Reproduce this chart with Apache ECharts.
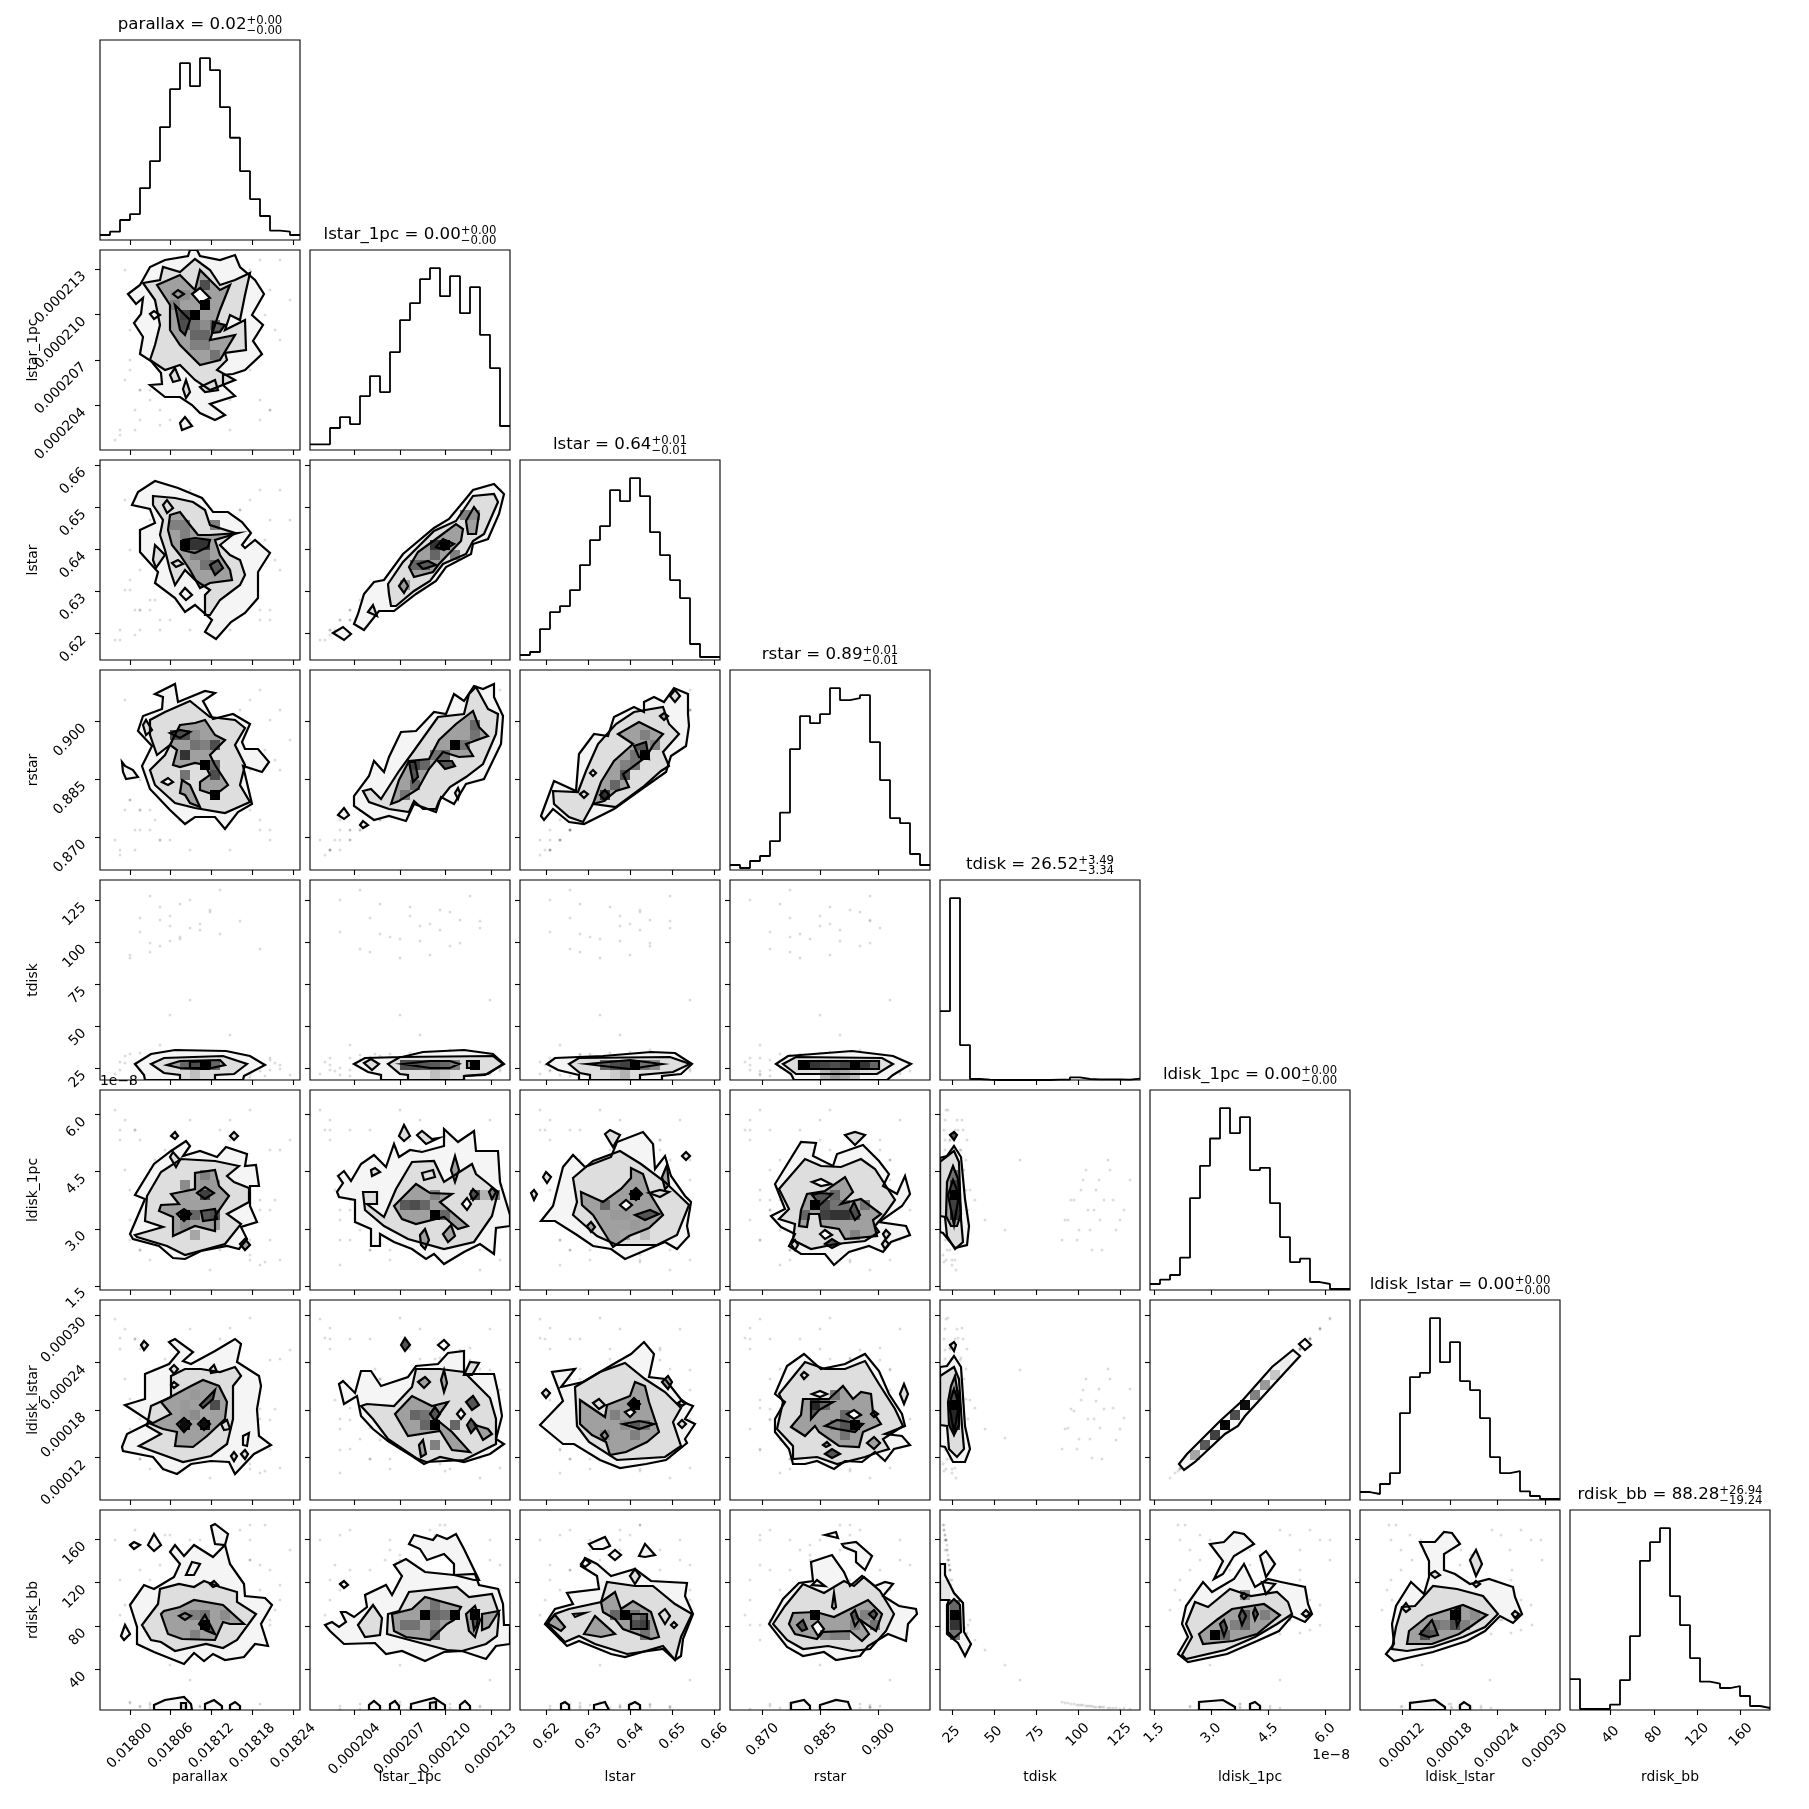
<!DOCTYPE html>
<html><head><meta charset="utf-8"><style>html,body{margin:0;padding:0;background:#fff}#c{width:1809px;height:1809px}</style>
<script src="https://cdn.jsdelivr.net/npm/echarts@6/dist/echarts.min.js"></script></head><body><div id="c"></div>
<script>
const names=['parallax','lstar_1pc','lstar','rstar','tdisk','ldisk_1pc','ldisk_lstar','rdisk_bb'];
const medians=['0.02','0.00','0.64','0.89','26.52','0.00','0.00','88.28'];
const plus=['+0.00','+0.00','+0.01','+0.01','+3.49','+0.00','+0.00','+26.94'];
const minus=['\u22120.00','\u22120.00','\u22120.01','\u22120.01','\u22123.34','\u22120.00','\u22120.00','\u221219.24'];
const mins=[0.0179562,0.00020107,0.61364,0.86154,18,1.39e-8,0.0000667,2.5];
const maxs=[0.01825,0.00021426,0.66126,0.91327,137,6.65e-8,0.000319,187];
const tickLabels=[['0.01800','0.01806','0.01812','0.01818','0.01824'],['0.000204','0.000207','0.000210','0.000213'],['0.62','0.63','0.64','0.65','0.66'],['0.870','0.885','0.900'],['25','50','75','100','125'],['1.5','3.0','4.5','6.0'],['0.00012','0.00018','0.00024','0.00030'],['40','80','120','160']];
const tickVals=[[0.018,0.01806,0.01812,0.01818,0.01824],[0.000204,0.000207,0.00021,0.000213],[0.62,0.63,0.64,0.65,0.66],[0.87,0.885,0.9],[25,50,75,100,125],[1.5e-8,3e-8,4.5e-8,6e-8],[0.00012,0.00018,0.00024,0.0003],[40,80,120,160]];
// histograms (20 bins)
const h1=[15,25,60,78,156,237,339,453,531,462,546,510,399,307,207,123,72,28,25,15];
const h2=[17,17,66,99,78,162,222,174,294,390,441,513,546,462,522,411,489,346,246,72];
const h3=[15,24,93,144,162,210,285,360,402,510,477,546,492,384,315,240,186,48,9,9];
const h4=[15,6,27,42,87,172,363,462,441,468,546,510,516,525,384,270,156,141,48,15];
const h5=[207,546,105,3,1,0,0,0,0,0,0,1,1,8,3,2,2,2,1,4];
const h6=[18,31,45,97,276,373,455,546,471,519,360,367,261,159,84,94,24,18,3,3];
const h7=[24,18,48,81,261,369,382,546,414,474,357,330,246,129,81,87,26,12,3,3];
const h8=[93,3,3,3,16,90,222,448,504,546,342,255,156,85,79,66,72,42,12,6];
const hists=[h1,h2,h3,h4,h5,h6,h7,h8];
// stray samples, in units of 1/20 of each variable's range
const s1=[3,5,6,7,8,4,9,10,6,7,11,8,5,12,9,7,13,6,8,10,2,1.5,18,17,3.5,16,15,2.5,17.5,19,4,13,6,14,3,15,2,16,5,18,7,11,9,12,5,14,8,10,4,17,10,12,8,6,11,9,13,7,15,5,3,16,5,8,12,10,7,14,4,11,6,9,13,15,2.5,17,6.5,10.5,8.5,12.5,3.5,16.5,9.5,5.5];
const s2=[9,6,14,11,8,3,17,12,15,10,13,7,16,5,18,9,11,4,14,12,2,1,19,16,4,3,18,7,12,15,6,2,10,17,8,13,1.5,19,5,11,3,16,9,6,14,12,7,18,10,4,15,8,13,2.5,17,11,5,19,9,16,12,5,15,9,7,13,11,17,6,14,10,3,16,8,18,4,12.5,9.5,7.5,15.5,2,13.5,11.5,6.5];
const s3=[8,6,13,10,7,3,15,11,13,10,12,6,15,5,17,8,10,4,13,11,3,2,17,14,5,4,16,7,10,14,5,3,9,15,7,12,2,17,5,9,4,15,9,6,12,10,6,16,9,5,13,7,11,3,15,10,6,17,8,14,11,5,13,8,6,12,10,15,5,12,9,3,14,7,16,4,11,8,7,14,2.5,12,10,6];
const s4=[7,6,13,11,6,4,15,10,14,9,12,5,14,6,16,9,11,3,13,10,2,3,16,15,4,5,17,6,11,13,6,2,8,16,7,11,1.5,18,4,10,3,14,8,7,12,13,5,17,9,4,15,7,12,3,14,9,6,16,10,15,10,4,14,8,7,11,9,14,6,13,10,2,15,6,17,3,12,9,8,14,2,12,11,5];
const s5=[12.2,12.8,13.4,13.9,14.3,14.8,15.2,15.6,16,16.4,17,17.6,18.4,19,8,6.5,4.5,3.5,3,2.8,1,.6,1.5,2,.4,1.2,.8,2.4,1.7,.5,1,2.2,.7,1.4,2.6,.3,1.8,.9,2,1.1,.5,1.6,.8,2.3,1.2,.4,1.9,.6,2.7,1,1.4,.7,2.1,.9,1.6,.5,2.5,1.1,.8,1.3,12.5,13.1,13.7,14.1,14.6,15,15.4,15.9,16.2,16.8,17.3,18,1,.6,1.7,2.2,.5,1.3,.9,2,1.5,.4,.7,2.6];
const s6=[5,7,9,6,11,8,4,10,7,9,12,6,8,11,13,6,7,9,10,8,15,18,3,14,16,2.5,5,12,9,15,4,17,6,13,10,3.5,16,8,12,14,5,7,11,16,3,13,9,6,15,8,12,4,14,10,2,17,6,11,18,7,7,9,5,10,12,6,8,11,4,13,9,7,15,3,17,5,14,8,11,6,16,2.8,10,13];
const s7=[5.1,7.2,8.9,6.1,11,8.1,4.2,9.9,7.2,9.1,12.1,6,8.2,11.1,13,6.2,7.1,9.2,10,8.1,15.1,18.1,3.2,14,16.1,2.7,5.2,12.1,9.1,15,4.1,17.2,6.1,13.1,10.1,3.6,16.2,8.1,12.1,14.1,5,7.2,11.1,16.1,3.1,13.2,9.1,6.1,15.1,8,12.1,4.1,14.2,10,2.2,17.1,6.1,11,18.2,7.2,7.1,9.1,5.1,10,12.1,6.1,8.1,11.1,4.1,13.1,9.2,7.1,15.2,3.1,17.1,5.1,14.1,8.2,11.1,6.2,16.1,2.9,10.1,13.1];
const s8=[.8,.7,.6,.5,.5,.4,.4,.3,.3,.3,.2,.2,.2,.1,3,4.5,6,7,9,8.5,13,17,11,9,18,12,15,8,10,16,14,8.5,16.5,11,7.5,18.5,9.5,14.5,9,12.5,17.5,10.5,15.5,8,13,18,9.7,17,7.7,14,11.5,16,9,14.5,10,17,8.2,12,15,11,.7,.6,.5,.5,.4,.4,.3,.3,.3,.2,.2,.1,14,17,10.5,8.5,17.5,12,15,9,11,18.5,16,7.6];
const samples=[s1,s2,s3,s4,s5,s6,s7,s8];
// contours: first number is the level, then x,y pairs in 1/20 of the panel's ranges (y counted from the top)
const c21=[[0,2.8,4.4,3.6,5.4,4.3,4.8,4.1,6.4,3.4,7.3,4.3,8.7,4,10.4,5.1,11.1,6.1,12.3,6.2,13.4,5,13.5,6.5,14.7,8,14.7,9.2,15.5,10,16.3,11.5,17,12.5,16.5,11,15.4,13.5,14.6,12.3,13.5,12.3,12.5,13.3,12.4,14.5,12,16.2,10.4,15.3,9.1,16.3,7.5,15.2,6.5,16.4,4.4,15.5,3,14,1.7,13.5,.5,12,1,10,.6,9.7,0,9,0,8.8,.6,6.5,1,5,1.7,4,3.5],[1,4.3,3.3,6,3,6.3,1.7,8,2.2,9.5,.9,11,2,12,3.5,13.5,3,15,2.3,14.5,4.5,14,7,13,6.5,12.5,8,14.5,7,14.6,10,12.5,10.3,12.7,11,11.7,12,13.5,13,11,14,9.5,13,8,11.5,6.5,12,5,11,5.5,9.5,6,7.5,5.5,5],[2,5.7,3.5,8,2.5,9.5,4,10,2,11,3,12,4,13,3.5,12,6,11,9,13.5,8.5,12,11,10,11.5,8,9.5,7,8,7,5.5],[3,7.5,5.5,9,7,8.5,8.5,8,8],[3,11.3,7.2,12.5,7.5,12,8.2,11.2,8.3],[1,7.3,4.4,7.8,4,8.4,4.4,7.8,4.8],[4,9.2,4.4,10,3.8,11,4.8,10,5.3],[0,5,6.4,5.4,6.1,6,6.5,5.4,6.9],[1,7,12.5,7.5,11.8,8,13,7.3,13.2],[1,8.3,13.9,8.6,13,9,14.2,8.6,14.8],[1,10,13.7,11.5,13,11.8,14,10.5,14.2],[0,8,17.3,8.5,16.7,9.2,17.6,8.2,18]];
const k21=[10,5,1,9,6,1,10,3,.7,8,6,.75,8,7,.7,9,7,.55,10,7,.45,9,8,.6,10,8,.6,7,5,.5,8,4,.45,7,4,.4,9,9,.5,10,9,.5,11,10,.55,11,7,.6];
const c31=[[0,3.2,4.5,3.8,3.2,5.5,2.1,7.8,2.8,10.2,3.8,11.3,5.2,12.8,5.2,14.2,6.2,15.1,7.3,14.2,8.5,14.5,8.8,15.5,8,17,9.3,15.8,11.2,15.8,13.8,14.5,15.3,13.1,16.2,11.6,17.9,10.5,17.2,11.2,16,9.5,14.5,8.5,15.2,7.5,13.8,5.5,12.3,5.8,11.2,4,9.2,4,7,5.5,6.3,5,4.9],[1,5.3,3.6,7.5,3.8,9.3,4.2,10.5,5,11,6.5,13.5,7.3,12,8.5,13,9.5,14,10,14.5,11.5,14,12.5,12,14,11,15.5,10.5,15.5,10.5,13.5,11,13,9.5,12,8.5,11,7.5,12.5,7,11,6.5,9,6,7.5,6.3,6,5.3,4.5],[2,7,5.5,8,5.2,9,6.5,9.8,7.5,11,7.5,13.8,7.3,11.5,8,12,9.5,13,11,13.2,12,11,12.3,10,12.8,9,11,8,9.5,7.2,8.5,6.8,7],[3,8.3,8,9.5,7.8,11,8,10.8,8.7,9.5,9.3,8.2,9],[3,11,10.5,11.8,10,12.3,10.8,11.5,11.5],[1,5.3,10,5.5,8.5,6.5,9.5,5.6,10.8],[1,6.3,4.5,6.7,4,7.3,4.8,6.7,5.3],[1,7.2,10.3,7.8,10,8.3,10.4,7.6,10.7],[0,8,13.4,8.5,12.8,9.2,13.5,8.6,14]];
const k31=[8,8,1,9,8,.8,10,8,.8,10,10,.55,9,9,.5,10,9,.5,11,10,.65,8,6,.5,8,7,.5,7,6,.5,11,6,.5];
const c41=[[0,5.5,2.4,7.5,1.4,7.8,3.2,10.5,2.1,11.5,2.3,10.3,3.1,11.3,4.9,13.3,4.4,15,5.4,14.2,7.2,14.5,7.9,15.8,7.9,16.9,9.2,16.2,10.2,14.3,9.6,15.2,13.4,13.8,14.2,12.5,15.9,11.5,14.7,9.5,14.7,8.5,15.4,7,14,5,11.9,4.2,9.6,5.2,7.6,3.8,6.1,4.3,4.6,6.2,3.9,6.3,2.7],[1,6.5,4.2,9,3.1,11,4.7,13.5,5,14.5,5.8,13.5,7.5,14.5,9.5,14,11.5,15,13.2,12.5,14.3,9.5,13.8,7.5,13.3,5.5,11.5,5,10,6.5,8.5,7,7.5,5.7,8.5,5,6.5,5,5],[2,8,5.5,9.5,5.3,10.5,5,11.5,6.5,12.5,7,11,8.5,11.5,9.5,12.8,11.5,11.5,12.5,10,12,10,11.2,11,10.5,10.5,9.5,9.5,9.3,8,9.7,7.3,9.5,7.7,8,7,7.5],[2,8.2,11,9,11.5,10,13.7,9,13.3,8.5,12.5,8,12.3],[3,7,6.3,8,6,9,6.2,8,6.8],[1,4.3,5.5,4.6,5,5.2,6,4.6,6.5],[4,6.2,11.2,6.8,10.8,7.3,11.2,6.8,11.5],[0,2.2,9.2,2.5,9.6,3.3,10,3.8,10.7,2.6,10.9,2.3,10.2]];
const k41=[11,12,1,10,9,1,8,8,.8,11,7,.7,9,7,.55,10,7,.5,9,6,.45,8,6,.7,7,6,.7,11,10,.7,11,9,.6,8,10,.55];
const c51=[[0,3.5,18.4,5.1,17.4,7.5,17,12.6,17.1,15,17.6,16.5,18.5,14.4,19.6,14.3,20,4.5,20,4.4,19.5],[1,5.1,18.4,6.4,17.8,12.3,17.6,14.7,18.4,13.4,19.4,11.5,19.5,11.5,20,8,20,8,19.5,6.4,19.3],[2,6.7,18.5,8,18.1,12,18,12.5,18.5,10.7,18.9,8,18.8],[3,9,18.2,11,18.1,11,18.8,9,18.8]];
const k51=[10,18,1,9,18,.7,8,18,.6,11,18,.6,8,19,.15,9,19,.25,10,19,.15];
const c52=[[0,4.4,18.4,5.5,17.8,9.2,17.7,11.3,17.2,15.4,17,18.3,17.4,19.4,18.4,17.5,19.5,15.4,19.6,15.4,20,7.1,20,7.1,19.5,5.8,19.2],[1,7.8,18.4,9,17.7,18.3,17.6,19.3,18.4,17.8,19.4,15.4,19.6,15.4,20,9.8,20,9.8,19.5,9,19.4],[2,9.3,18.4,12,18.1,14,18.1,14.9,18.4,14,18.8,12,18.8],[1,5.4,18.3,6.1,17.9,6.9,18.4,6.2,19],[2,15.7,18.1,16.4,18.1,16.4,18.8,15.7,18.8]];
const k52=[9,18,.7,10,18,.7,11,18,.65,12,18,.65,13,18,.6,14,18,.5,16,18,1,12,19,.25,13,19,.2];
const c53=[[0,2.7,18.4,3.5,17.8,8.3,17.6,13.1,17.2,15.5,17.3,17.2,18.4,16.1,19.4,14.2,19.6,14.2,20,5.9,20,5.9,19.5,3.8,19],[1,4.9,18.4,5.9,17.8,15,17.7,17,18.4,15.3,19.2,12,19.5,12,20,7,20,7,19.5,6,19.3],[2,6.7,18.4,11,18,14.2,18.4,11,18.9,8.3,18.6]];
const k53=[11,18,1,10,18,.75,9,18,.7,12,18,.55,8,18,.6,13,18,.45,9,19,.2,10,19,.3];
const c54=[[0,4.6,18.4,5.8,17.6,12.2,17.1,16.3,17.6,18.1,18.4,16.3,19.5,15.7,20,6.4,20,6.1,19.4],[1,5.3,18.4,6.6,17.7,15.2,17.8,16.3,18.4,14.7,19.4,6.6,19.4],[2,6.9,18.1,14.9,18.1,14.9,18.9,6.9,18.9]];
const k54=[7,18,1,8,18,.8,9,18,.75,10,18,.7,11,18,.75,12,18,1,13,18,.8,14,18,.6,9,19,.3,10,19,.4,11,19,.35,12,19,.25];
const c61=[[0,3,14.4,4.5,10.9,3.5,10.5,5.4,7.4,7.1,6.1,8.6,5.1,9,5.6,8.3,6.6,10,6.1,11.7,6.7,12.6,5.7,14.7,6.4,14.5,7.6,15.6,7.5,15.9,9.6,15,9.6,15,11.6,15.7,13.2,14.1,13.7,14.7,14.9,13.9,15.9,12.7,15.6,10.1,16.1,8.5,16.9,7.3,16.8,5.9,15.6,3.3,14.9],[1,3.5,14.5,6.3,13.7,4.5,13.1,4.7,10.6,6.1,8.2,8.1,6.9,11.5,7.1,13.9,7.6,12.7,8.6,13.4,9.2,14.9,9.8,14.9,11.2,12.7,12.4,14.1,13.4,12.5,15.4,8.5,16.5,6.7,15.6,3.7,14.7],[2,7.1,10.4,9.5,9.9,9.5,8.3,11.5,8,11.9,9.6,12.9,10.6,11.5,12.6,11.5,14.1,9.5,13.6,7.3,14.6,7.3,12.7,5.9,12.1,6.1,11.5,7.9,11.4],[3,9.7,10.3,10.5,9.7,11.4,10.3,10.5,10.9],[3,7.7,12.4,8.4,11.9,9.1,12.4,8.4,13.1],[3,10.1,12.1,11.5,11.9,11.7,12.9,10.3,13.1],[1,7.1,4.6,7.5,4.2,7.8,4.6,7.5,4.9],[1,13,4.6,13.4,4.2,13.8,4.6,13.4,5],[2,14,15.4,14.5,14.9,15,15.5,14.5,16],[1,7,6.7,7.3,6.2,8,7,7.6,7.7]];
const k61=[8,12,1,9,12,.6,10,10,.75,11,12,.7,11,13,.4,8,9,.45,9,10,.35,10,8,.5,10,9,.4,11,9,.4,8,13,.45,9,14,.35];
const c62=[[0,2.8,8.6,3.4,8.1,4.1,9.1,5.1,7.4,6.4,6.5,7.6,7.7,8.4,5.4,8.9,6.7,10,6,11.2,6.2,13.4,5.6,13.4,3.9,14.8,5.2,16.4,4.1,16.6,6.1,18.8,6.1,19,9.2,20,12.5,20,13.6,18.6,13.8,18.4,16.4,17,15.4,15.4,16.2,13.4,17.4,12.4,16.4,11.6,16.9,10.2,15.9,8.4,15.2,7,14.4,7,15.6,6.1,15.6,6.1,13.9,4.5,13.2,4.5,11,2.9,10.7,2.7,10.2,3.3,9.3],[1,5.3,10.2,6.7,10.2,6.7,11.4,5.7,11.4,7.4,12.7,8.6,9.9,10.2,7.2,12.4,7.1,13.4,9.2,16.2,7.4,16.6,8.4,17.6,9.2,18.8,10.2,18.2,12.6,16.4,15.2,13.4,15.9,9.8,14.9,7.4,13.6,5.5,12],[2,8.4,11.6,10.6,9.4,12,10.3,14.2,10.4,13,11.2,15.8,13.6,14.8,13.9,13.4,12.7,10.6,13.4,9.2,12.9],[1,8.9,4.6,9.4,3.5,10,4.6,9.4,5.1],[1,10.7,4.5,11.2,4.1,12.2,4.9,12.9,4.8,11.6,5.4],[2,14.1,8,14.5,6.6,14.9,8,14.5,9.2],[4,15.2,11.4,15.7,10.8,16.1,11.4,15.7,12],[3,16,10.4,16.3,9.9,16.8,10.4,16.3,11],[2,17.9,10.2,18.2,9.8,18.6,10.2,18.2,10.9],[2,11,14.5,11.5,13.9,11.9,15,11.5,15.9,11.1,15.5],[2,13.3,14.4,14.1,13.5,14.5,14.6,13.8,15.2],[1,6.1,8,6.5,7.8,7,8.2,6.2,8.6],[1,11.2,8.3,12.3,8,12.5,8.7,11.4,9]];
const k62=[12,12,1,9,11,.65,10,11,.7,11,11,.6,12,10,.5,13,12,.6,16,10,.7,18,10,.5,17,10,.3];
const c63=[[0,2.1,13.1,3.3,11.6,4.3,7.7,5.3,6.5,6.5,7.7,9.1,6.7,9.7,5.2,12.3,4.2,13.3,5.4,13.5,7.9,14.5,6.6,15.1,8.6,16.5,10.6,17.1,11.2,16.7,13.6,16.9,14.6,15.7,15.9,14.5,15.2,10.5,16.9,9.1,15.9,7.3,15.6,5.7,14.5,3.5,13.1],[1,5.3,8.8,7.3,7.1,10,6.1,12.1,7.4,14.5,9.2,16.9,11.5,15.7,14.5,13.7,15.5,9.7,15.5,7.7,14.6,5.3,12.5,5.7,11.2],[2,6.1,10.2,8.3,11.2,10.1,9.9,11.1,8.8,11.1,7.8,12.3,8.4,12.9,10.2,14.3,12.5,12.9,13.8,10.9,14.6,9.3,15.7,8.5,14.4,7.3,12.5,6.2,11.5],[1,12.9,10.3,14,10,14.9,10.2,14,10.7],[3,11,10.4,11.6,9.8,12.2,10.4,11.6,11],[4,10,11.5,10.6,11,11.2,11.5,10.6,12],[3,11.5,12.5,13,12,13.9,12.4,12.5,13],[1,8.5,4.4,9,4,10,4.5,9.3,5.7],[1,2.3,8.7,2.6,8.2,3.1,8.7,2.7,9.3],[1,1.1,10.3,1.4,10,1.7,10.4,1.4,11],[1,16.2,6.6,16.6,6.2,17,6.6,16.6,7],[2,14.2,8.7,14.7,7.5,14.9,9.5,14.5,9.9],[2,6.7,13.6,7.1,13.2,7.5,13.7,7.1,14.2]];
const k63=[11,10,1,8,11,.6,9,12,.4,10,12,.4,11,13,.4,10,14,.35,12,14,.25];
const c64=[[0,4.1,12.6,5.5,11.9,4.5,9.4,7.1,5.2,8.6,5.3,8.3,6.6,10.3,7.6,10.7,6.4,13.3,5.5,14.9,7.1,15.9,8.4,15.3,9.6,16.7,10.4,17.5,8.6,18,10.4,17.2,11.6,14.9,13.2,17.6,13.6,18,14.5,16.1,15.2,15.3,16.2,13.9,15.6,11.9,16.2,10.4,17.5,9.5,16.4,7.1,16.4,5.9,15.6,6.5,14.4,5.1,13.7],[1,4.9,9.9,7.5,6.9,9.1,7.6,11.1,7.7,13.1,6.9,14.5,7.9,16.5,11,15.5,12.4,14.5,13.6,14.9,14.2,13.5,15.1,10.6,15.4,8.1,15.9,6.3,15,6.5,13.4,4.9,12.9,5.9,11.9],[2,6.9,13.6,7.1,12,7.7,10.4,9.5,10.1,11.5,8.7,12.3,10.2,11.1,11.4,13.1,10.9,15.1,12.4,14.3,13,14.7,14.6,11.5,14.9,10.9,13.9,9.1,13.6,8.9,12.4,7.9,12.4,7.7,13.7],[3,8.2,10.5,9,10.3,10.2,10.4,9,11.5],[3,12,12,12.4,11.2,13,12.5,12.5,13],[4,8.2,9.2,9.1,8.9,10.1,9.4,9.1,9.6],[1,11.5,4.5,12.5,4.2,13.5,4.5,12.5,5.5],[3,9.5,15.4,10.2,14.9,11,15.4,10.2,15.8],[1,6.1,15.4,6.5,15,6.8,15.5,6.5,16],[1,15.2,15.4,15.5,15,15.9,15.4,15.5,15.9],[1,15.3,14.4,15.6,14,16,14.4,15.6,14.9],[4,9,14.4,9.5,14,10.2,14.5,9.5,14.9]];
const k64=[8,11,1,9,11,.7,9,12,.75,10,12,.8,11,12,.8,12,12,.7,10,11,.55,11,11,.55,10,10,.6,13,11,.55,7,12,.6,12,14,.5];
const c65=[[0,0,6.8,.7,6.6,1.4,5.6,2.1,6.7,2.5,10.9,2.9,13.6,2.7,15.5,1.5,15.8,.3,14.3,0,14.2],[1,0,7.2,1.4,6.1,1.9,7.2,2.1,12.9,2.3,15.2,1.5,15.9,.7,14.6,.5,12.7,0,12.6],[2,1.3,7.6,1.8,8.9,2.1,12.4,1.7,13.6,1.1,13.6,.6,12.6,.7,9.2],[3,1.3,9,1.9,10.5,1.4,13.5,.8,10.5],[3,1,4.5,1.4,4.2,1.7,4.5,1.4,5]];
const k65=[1,10,1,1,11,.75,1,12,.8,1,9,.75,1,8,.55];
const c71=[[0,2.2,14.7,2.7,13.4,5.1,12.2,2.5,10.5,4.5,9.9,4.5,7.4,6.9,6.4,7.9,5.2,6.9,4.2,7.5,3.9,9.3,5.2,8.3,6.1,9.1,6.4,11.5,5.1,13.5,3.9,14.1,4.4,13.7,6.2,15.9,7.6,16.1,8.6,15.7,10.9,15.9,13.6,17.1,14.5,15.4,15.4,13.5,17.4,12.9,16.2,11.1,16.1,9.1,16.4,7.7,17.4,6.3,16.9,5.3,15.7,2.3,15.1],[1,3.9,14.6,6.1,13.4,4.7,12.6,5.1,10.6,7.1,9.7,7.1,7.6,8.5,6.9,10.1,6.9,12,7.2,13.5,6.7,14.1,7.6,13.3,8.6,13.3,11.9,12.7,14.4,11.1,15.6,8.3,16.2,5.5,15.2],[2,5.1,12.4,7.1,11.4,6.1,10.2,9.1,8.6,10.3,8,11.9,8.6,12.7,10.2,12.5,11.9,10.7,13.6,9.3,14.7,7.5,14.6,7.7,13.2,6.3,12.9],[3,7.7,12.4,8.4,11.8,9.1,12.4,8.4,13.2],[3,9.8,12.4,10.4,11.8,11,12.4,10.4,13],[3,10,10.5,11.5,9,11.3,9.9,10.3,10.8],[1,4.1,4.5,4.4,4.1,4.8,4.5,4.4,5],[1,7,6.9,7.4,6.5,7.8,6.9,7.4,7.4],[1,11,6.9,11.4,6.5,11.7,7.2,11.1,7.3],[1,7.1,8.5,7.4,8.2,7.8,8.5,7.4,8.8],[0,14.3,13.6,14.9,13.3,14.7,14.6,14.3,14.5],[1,14.1,15.4,14.5,15,14.8,15.4,14.5,15.9],[1,13.1,15.6,13.4,15.2,13.7,15.6,13.4,16.1],[1,12.1,12.4,12.7,12,13,12.9,12.4,13]];
const k71=[8,12,.95,10,12,.95,11,10,.7,8,10,.4,9,9,.4,9,11,.45,10,11,.35,8,11,.4];
const c72=[[0,2.9,8.4,3.4,10.4,4.7,9.6,5.1,11.6,6.3,12.9,7.8,14.1,10.2,15.6,11.4,16.4,13,15.7,15.4,16.2,18,15.4,19.4,14.4,18.6,13.9,19.2,11.6,18.8,9.2,18.4,7.4,15.4,7.4,15.4,5.1,13.8,5.3,12.8,6.4,10.6,6.6,9.8,7.7,7.1,8.6,6.1,7.1,5.1,7.1,4.5,9.3,3.3,8.1],[1,5.1,10.6,5.7,10.4,8.4,10.6,10.2,8.7,10.6,6.9,13,6.9,15.4,7.2,16.4,8.2,18,9.8,18.6,11.9,18.6,14.4,15.4,16,11.6,16.2,10.6,15.8,7.8,13.9,6.3,11.9],[2,8.5,11.4,10.2,9.6,12.2,10.6,13.8,10.2,12.6,11.9,14.2,13.2,16,15.2,14.2,15,13,13.1,9.8,13.6],[3,12,11.4,12.5,10.7,13,11.4,12.5,12.1],[3,15.6,10.2,16.3,9.6,16.9,10.5,16.2,11],[3,9.1,4.5,9.5,3.8,10,4.5,9.5,5.1],[4,12.8,4.5,13.4,4,13.9,4.5,13.4,5],[2,10.9,14.5,11.3,14,11.6,15.4,11.1,15.7],[3,15.7,12.5,16.1,11.9,16.7,12.6,16.1,13.3],[4,14.7,11.4,15.1,10.9,15.5,11.4,15.1,11.9],[2,16.5,12.5,17.8,12.9,18.2,13.4,17.3,14],[1,15.4,7.5,16,6.2,16.9,6.3,16.2,7.5],[2,10.8,8.2,11.5,7.7,12,8.2,11.4,8.8],[2,13.1,8,13.4,7,13.7,8.3,13.4,9.2]];
const k72=[12,12,1,10,11,.6,11,12,.6,11,11,.55,12,14,.5,14,12,.6];
const c73=[[0,2,12.5,4.3,10.1,3.2,7.2,5.5,6.9,4.1,8.7,6.3,8.2,9.7,6.2,11.1,5.4,12.4,4.2,13.4,5.4,12.9,7.7,14.5,7.9,16.3,10.2,17.3,10.6,16.5,11.9,17.5,12.4,16.5,13.9,16.7,14.3,14.6,16,12.6,16.4,10,16.8,8,16,5.4,14.4,4.3,14.4],[1,5.5,8.7,8,7.2,10.5,6.3,12.5,7.9,14.5,9.2,16.1,10.8,15.3,12.2,16.1,14.6,14.5,15.7,9.7,16,6.9,14.2,5.7,12.6],[2,6,10,8.5,11.7,8.7,10.5,11,9.6,11.5,8.2,12.5,8.6,12.9,10.2,13.5,12,13.9,13.2,12.7,14.2,10.6,15.2,9,15.5,8.6,14.2,7.2,13.5,6,12.4],[3,10.8,10.4,11.4,9.8,12,10.4,11.4,11],[3,10.3,12.4,11.9,12.1,13.4,12.4,11.9,12.9],[1,7.3,10.3,7.9,9.9,8.5,10.5,7.9,10.9],[1,2.2,9.3,2.6,8.9,3,9.3,2.6,9.8],[2,14.2,8.2,14.8,7.6,15.2,8.2,14.8,8.9],[1,15.8,10.3,16.2,10,16.6,10.3,16.2,10.6],[1,15.8,12.4,16.2,12,16.6,12.4,16.2,12.8],[4,10.5,11.2,11.1,10.9,11.5,11.2,11,11.7],[2,8.1,13.5,8.5,13.1,8.8,13.6,8.5,14]];
const k73=[11,10,1,9,11,.5,10,12,.45,11,13,.5,8,13,.45,12,12,.55];
const c74=[[0,4.5,9.4,5.7,6.6,7.4,5.4,9.1,6.9,11.5,6.4,13.5,5.4,14.9,7.1,15.9,9.4,17.2,11.4,17.5,12.6,15.5,13.4,17.2,13.6,18,14.5,16.4,14.9,15.5,16.1,14.5,15.2,13.2,16.2,11.5,16.1,10.4,16.9,8.7,16.1,7.5,16.4,6.3,16.4,5.9,14.9,4.5,13.2,4.5,11.9,5.5,10.2],[1,4.9,9.4,7.5,6.2,9.5,6.9,11.5,6.9,13.5,6.1,14.9,8.4,16.5,10.9,17.3,12.6,15.3,13.9,15.9,14.9,14.9,15.2,13.5,15.7,10.7,16.4,8.7,15.7,6.3,15.9,6.3,14.6,4.7,12.9,5.3,10.2],[2,6.1,12.7,7.5,13.6,8.5,12.6,8.9,13.2,10.9,14.6,12.9,14.7,13.3,13.2,15.1,12.4,14.3,11.2,14.1,9.4,13.1,9.2,12.3,9.9,11.3,8.6,9.9,9.9,7.3,9.9,7.1,11.5],[3,8.1,10.2,10.3,10.2,8.9,11,8.1,11.9],[3,9.5,12.6,10.7,12,13.3,12.4,12.5,13.2,10.7,12.9],[1,7.1,7.5,7.4,7.2,7.8,7.5,7.4,7.9],[4,8.2,9.4,9,9.1,9.7,9.4,9,9.7],[4,11.7,11.4,12.4,11,13.1,11.5,12.4,11.9],[1,14.1,11.4,14.4,11.1,14.8,11.4,14.4,11.7],[1,17,9.4,17.4,8.4,17.8,9.4,17.4,10.4],[2,13.7,14.3,14.4,13.7,15,14.3,14.4,14.9],[2,9.3,14.5,9.7,14.2,10,14.5,9.6,14.7],[3,9.5,15.4,10.2,14.9,11,15.4,10.2,15.8]];
const k74=[8,10,.85,12,12,1,9,10,.6,10,9,.55,10,12,.55,11,13,.55,11,11,.6];
const c75=[[0,0,6.7,.7,6.6,1.4,5.6,2.1,6.7,2.5,12.6,3,14.9,2.5,16.2,1.3,16.2,.5,14.7,0,14.6],[1,0,7.6,1.4,6.7,1.9,7.9,2.2,12.6,2.4,14.9,1.7,15.7,.9,14.9,.7,12.6,0,12.5],[2,1.1,8.6,1.5,7.6,1.9,10.2,1.9,12.5,1.4,13.5,.9,12.5,.8,10.2],[3,1.4,8.9,1.9,10.5,1.4,13.2,.9,10.5],[1,1,4.5,1.4,4.2,1.6,4.5,1.4,5.1]];
const k75=[1,10,1,1,11,.85,1,12,.8,1,9,.7];
const c76=[[0,2.9,16.4,3.7,15.4,7,12.1,9.2,10.1,12.2,6.7,14.3,5,15,5.6,13.8,6.9,9.5,11.6,8.8,12.6,7.5,13.4,4.5,16.2,3.4,17],[4,14.9,4.4,15.5,3.9,16.1,4.5,15.5,5]];
const k76=[4,15,.35,5,14,.65,6,13,.75,7,12,1,8,11,.7,9,10,.95,10,9,.5,11,8,.4,12,7,.22,13,6,.08];
const c81=[[0,3,9.5,4.4,7.5,5.4,7.9,7.4,6.7,8,5.4,7,4.2,7.5,3.5,8.4,4.6,9.4,3.5,11.3,4.7,12.5,3.5,13,5.4,14.4,7.4,14.5,8.6,16.5,8.8,17.2,9.5,16.1,11.4,16.8,13.6,15.5,13.4,14.4,14.7,12.5,15,11.3,14.4,10.4,15.1,9.4,14.3,8.4,15.4,5.4,14.2,3.7,13.4,3.7,11.7],[1,4.2,11.5,5.8,9.4,6,7.9,7.9,7.4,9.4,7.7,10.4,7.1,12,7.7,13.7,8.2,13.7,9.2,15.6,10.4,13.7,13,12.3,13.8,10.6,13.4,7.5,14.1,6.1,13.2,5.1,13],[2,6.1,10.4,6.4,10.1,8,9.7,9.4,9,12.3,9.5,14.4,11.4,13,11.4,12.3,11.2,11.5,13,8.2,12.9,6.8,12.4],[3,9.9,11.4,10.5,10.5,11.5,12.4,10.5,12],[3,7.9,10.6,8.5,10.3,9.1,10.6,8.5,11],[0,3,3.5,3.4,3.2,4,3.5,3.4,3.9],[0,4.8,3.5,5.4,2.4,6.1,3.5,5.4,4.1],[0,2.1,12.6,2.5,11.5,3,12.4,2.4,13],[0,8.6,6.5,9.2,5.2,10,5.4,9.4,6.5],[0,11.1,1.6,11.5,1.4,12.8,2.4,12.5,3.5,11.5,3.4],[0,5.4,20,5.4,19.5,6.5,19,8.4,18.7,9.1,19.4,9.2,20],[1,8.1,20,8.1,19.3,8.6,19.3,8.6,20],[0,10.5,20,10.5,19.4,11.4,19,12.2,19.6,12.2,20],[0,13,20,13,19.5,13.5,19.2,14,19.6,14,20],[1,11,7.4,11.4,7.1,11.8,7.5,11.3,7.7]];
const k81=[10,11,1,10,10,.55,8,10,.45,9,10,.5,12,10,.45,9,12,.5];
const c82=[[0,1.5,11.5,2.2,11.2,2.9,11.7,3.6,11.2,3.1,10.2,3.6,10.2,4.4,10.7,5.7,9.7,5.5,8.5,7.6,7.5,8.2,8.5,9.2,6.6,8.4,5.5,9.6,4.9,11.5,6.2,14.4,6.5,16.5,6.4,16.9,7.5,18.8,7.9,19.3,9.4,19.4,11.5,20,11.5,20,13.4,18.6,13.6,17.6,14.9,15.2,14.1,13.4,14.2,11.5,15.1,9.2,14.1,7.6,14.4,6.5,13.3,3.4,13.4,2,12.1],[0,9.9,3.4,10.4,2.5,12.3,3,12.7,2.5,13.7,2.9,14.6,2.4,15.4,3.9,16.9,7,16.4,7,14.4,6.5,14.4,5.4,13.4,4.4,11.7,5,11,3.9],[1,4.8,11.5,6.3,9.5,7.2,10.8,7,12.5,5.5,12.7],[1,7.7,12.4,13.7,14,15.2,14.1,17.6,13.4,18.7,12.6,18.9,10.4,18.2,8.4,15.9,8.7,14.7,7.7,9.9,8.2,8.9,10.1,7.8,10.4],[2,8.2,10.4,10.2,9.9,11.5,8.7,15.1,9.7,14.4,11,13.7,11.4,12,13,9.6,12.7,8.4,12.1],[2,15.6,10.4,16.5,9.6,17,11,16.5,12.7,15.9,12.1],[2,17.2,10.4,18.9,10.1,17.9,11.7,17.2,12],[3,16.1,10,16.9,10,16.7,11.5,16.4,12],[0,3,7.4,3.4,7.1,3.8,7.5,3.4,7.8],[0,5.9,20,5.9,19.5,6.4,19.1,7,19.6,7,20],[0,8,20,8,19.4,8.5,19.1,8.9,19.6,8.9,20],[0,10.1,20,10.1,19.4,12.4,18.8,13.5,19.5,13.5,20],[0,15,20,15,19.5,15.5,19.1,16,19.6,16,20],[1,12,20,12,19.3,12.6,19.2,12.6,20]];
const k82=[11,10,1,14,10,1,16,10,1,12,9,.55,12,10,.6,13,10,.55,9,11,.55,10,11,.55,12,12,.6,12,11,.5];
const c83=[[0,2.5,11.4,3.5,9.9,5.3,9.4,4.7,8.3,7.9,7.9,7.7,6.6,6.1,5.6,6.5,4.8,7.7,5.4,9.1,6.6,11.5,5.9,13.1,7.1,16.7,7.3,16.5,8.6,17.3,10.4,16.3,12.9,16.1,14.6,15.5,15,14.3,13.6,10.5,14.7,9.1,14.4,5.9,13.1,4.7,13.6],[1,2.7,11.4,3.5,10.4,4.9,9.9,8.1,9.2,8.7,7.2,11.5,7.6,13.3,7.6,15.5,9.4,17.2,10.4,16.1,12.7,15.5,15,14.3,13.9,10.7,14.4,7.5,13.4,5.9,12.6,4.5,13.2],[2,8.1,9.2,9.5,8.2,10.1,9.9,11.3,9.1,13.1,10.2,13.9,12.7,13.1,12.9,10.3,11.9,9.5,10.9,8.3,10.2],[2,6.4,12.4,7.5,10.6,9.5,12.4,8.1,12.7],[3,11.1,10.4,12.7,10.4,12.7,11.9,11.1,11.9],[1,13.9,10.4,14.5,9.9,15,10.6,14.5,11.4],[1,5.3,10.4,6.5,10.3,5.5,10.7],[2,2.7,11.3,3.5,10.5,4.5,11.7,4.1,12.1],[0,6.9,3.4,8.5,2.7,9,3.6,8.3,3.9,7.3,3.9],[0,8.9,4.5,9.5,4,10.1,4.5,9.5,5],[0,11.9,4.6,12.5,3.4,13.5,4.5,12.5,4.7],[1,11,6.6,11.5,5.9,12,6.6,11.5,7.4],[0,4.1,20,4.1,19.4,4.5,19.2,4.9,19.5,4.9,20],[0,7.4,20,7.4,19.5,8.5,19.2,8.9,20],[0,10.9,20,10.9,19.5,11.5,19.2,12,19.5,12,20],[1,15.1,11.5,15.4,11.2,15.7,11.5,15.4,11.8],[0,6.1,5.4,6.5,4.9,7,5.3,6.5,5.7]];
const k83=[10,10,1,9,10,.6,11,11,.7,12,11,.75,11,10,.55,12,12,.55];
const c84=[[0,3.9,11.4,5.3,8.9,6.9,7.3,8.3,7.1,8.1,5.2,10.2,4.5,11.4,6.2,12,7.6,13.2,6.6,14.5,7.6,15.5,7.2,16.3,7.4,15.3,8.6,16.9,9.6,18.6,9.9,18.7,10.4,17.8,11.4,17.6,13.1,15.8,12.4,13.8,13.6,13,14.6,10.6,15,9.4,14.2,7.3,14.6,5.7,13.7],[1,4.3,11.4,5.5,9.6,7.3,7.4,9.4,8.3,11.4,7.1,12.4,7.6,13.4,6.7,15,8.1,16.4,10.4,15.6,12.1,14,13.9,12.2,14.1,9.8,13.6,7.3,13.9,5.7,13],[2,5.9,11.4,6.3,10.3,8.6,10.2,10.4,10.7,13.8,9,15.2,10.4,14.6,12.1,12.9,10.9,13.9,12.4,13.2,13.1,12,12.1,9.3,12.2,8.7,12.9,6.5,12.4],[3,6.7,11.5,7.3,11,7.7,11.9,7.2,12.1],[3,13.9,10.4,14.4,10,14.7,10.4,14.4,10.9],[3,12.1,10.4,12.5,10,12.9,11,12.5,11.6],[4,8.2,11.6,8.8,11.1,9.4,11.9,8.8,12.6],[0,9.5,2.5,10.6,2.2,10.8,2.8],[0,11.2,3.4,12.6,3.2,14.2,4.6,13.5,6,12.6,5.2,12.6,4.2,11.4,3.7],[0,8.2,7.5,8.7,7,9.5,7.6],[1,10.2,9.7,10.4,8.3,10.6,9.7,10.4,9.9],[0,6.1,20,6.1,19.3,7.4,19,8,19.6,8,20],[0,9,20,9,19.5,10.6,19,11.8,19.2,12.1,20]];
const k84=[8,10,1,9,12,.45,10,12,.5,11,12,.5,13,10,.5,12,11,.5,14,11,.55];
const c85=[[0,0,5.4,.5,5.4,.5,6.5,1.4,8.3,2.3,9.3,2.4,12.2,3.1,13.4,2.5,14.6,1.8,13.3,.7,12.4,.7,9.5,.9,9,0,9],[2,.8,9.5,1.4,8.9,2,9.5,2.1,12.2,1.4,12.8,.8,12.2]];
const k85=[1,10,1,1,11,.8,1,9,.6,1,12,.55,0,7,.1,0,8,.1];
const c86=[[0,2.8,14.4,3.8,12.7,3.2,11.4,3.6,9.6,5.3,7.2,6.2,8.2,8.4,6.9,9.4,5.4,10.5,7.7,11.8,6.9,13.1,7.2,15.5,7.7,15.8,9.4,16.2,10.4,15.5,11.2,14.2,10.6,12.9,12.1,10.7,13.1,7.7,14.4,3.8,15.2],[0,6.4,6.9,7.3,5.1,6,3.4,7.4,3.2,8.4,2.2,9.4,2.4,10.4,3.4,8.4,4.6,7.3,6.4],[1,3.2,14.5,4.2,12.7,3.6,11.4,4.5,9.2,5.8,9.7,8,7.9,10.1,8.6,12.7,8.2,13.8,9.2,14.2,10.4,12.7,11.4,10.5,12.7,7.5,14,3.6,14.9],[2,4.9,12.4,6.8,10.9,8.2,9.9,11.4,9.4,13,10.5,10.7,12.4,8.3,13.1,5.3,13.4],[3,8.9,10.6,9.2,9.9,9.6,10.6,9.2,11.5],[3,10.3,10.3,10.5,9.8,10.8,10.4,10.5,11],[3,7,11.4,7.4,11,7.7,11.8,7.4,12.6],[0,11,4.6,11.6,4.1,12.5,5.4,11.6,6.7],[0,11.2,7.2,12.5,7.4,11.6,8.4],[1,15.2,10.4,15.6,10,16,10.4,15.6,10.7],[1,9.1,8.6,9.4,8.3,9.7,8.6,9.4,8.9],[0,4.9,20,4.9,19.2,7.3,19,8.5,19.7,8.5,20],[0,10,20,10,19.4,10.5,19.2,11,19.6,11,20]];
const k86=[6,12,1,9,10,.65,9,11,.6,7,12,.6,8,11,.5,11,10,.5,9,8,.45];
const c87=[[0,2.6,14.4,3.4,13.4,3.2,11.4,3.6,9.6,5.1,7.2,6.4,8.4,6.9,6.7,6.9,5.1,6,3.2,7.5,3.2,8.4,2.2,9.2,2.3,10,3.4,8.4,4.4,8.4,6,9.5,6.4,11,7.4,12.9,6.9,15.3,7.7,15.5,8.7,16.2,10.4,15.3,11.3,14,10.6,12.5,12.1,10.7,13.1,7.3,14.2,3.4,15.1],[1,3.2,13.9,3.6,11.7,4.2,9.7,5.5,9.6,7.3,7.6,9.7,7.9,12.3,8.6,13.8,10.4,12.5,11.7,10.3,12.7,7.3,13.7,4.7,14.1],[2,4.9,12.1,6.8,10.6,10.3,9.5,12.7,10.5,11,11.7,9.9,12.4,7.2,13.4,4.7,13.4],[3,6,12.4,7.2,11,7.8,12.5,6.9,12.7],[3,9.5,10,10,9.7,10,11,9.7,11.6],[1,4.2,9.8,4.6,9.3,5,9.9,4.6,10.2],[1,7,6.4,7.5,6.1,8,6.5,7.5,6.8],[1,11,5,11.6,4,12.2,5.4,11.6,6.6],[1,11.3,7.4,11.6,7.1,12,7.4,11.6,7.7],[1,15.2,10.4,15.5,10.1,15.9,10.4,15.5,10.8],[0,5,20,5,19.3,7.5,19,8.5,19.7,8.5,20],[0,10,20,10,19.5,10.4,19.2,11,19.6,11,20]];
const k87=[9,10,1,9,11,.7,6,12,.7,7,11,.55,8,11,.5,10,11,.5,11,10,.45];
const c32=[[0,2.3,17.3,3.3,16.7,4.1,17.4,3.4,18],[0,4.4,16.4,4.8,15.4,5.4,13.4,6.4,12.2,7.4,12,9.3,9.4,12.4,6.8,13.9,5.9,15.4,4.1,16.3,3,18.4,2.4,19.4,3.4,18.9,5.4,17.8,7.9,16.3,8.4,16.1,9.4,13.6,10.7,12.6,12.1,10.6,13.4,8.4,15.1,6.9,15.1,5.4,17],[1,7.8,12.4,9.3,10.2,12.4,7.1,14.6,6.1,16.3,3.6,18.4,3.4,18.8,4.2,17.4,7.4,16.3,8.1,15.6,9.4,13.3,10.4,12,12.1,10.4,13.1,8.6,14.6,8.1,14.6,7.9,13.4],[2,9.9,10.7,10.8,9.2,12.6,7.9,14.6,6.4,15.3,6.9,15.1,8.1,12.9,10.4,12.3,11.2,10.4,11.7],[2,15.6,6.1,16.4,4.7,16.9,5.4,16.6,7.4,15.8,7.4],[3,12.6,8.7,13.3,7.9,14.4,8.4,13.4,9],[3,10.8,10.4,11.8,10.1,12.6,10.5,11.3,10.9],[2,8.9,12.6,9.4,11.9,9.8,12.6,9.4,13.3],[1,5.8,15.2,6.3,14.5,6.7,15.6]];
const k32=[13,8,1,12,8,.8,12,9,.6,11,10,.65,10,10,.6,14,9,.5,15,5,.5,16,5,.45,9,12,.4];
const c42=[[0,4.4,12.6,4.4,13.6,6.4,15,7.9,14.6,9.6,15.1,10.4,13.4,12.6,14.2,13.1,12.7,14.4,13.4,15.6,11.4,17.4,10.9,19.1,7.4,19.3,4.6,18.4,2.7,18.4,1.4,17.3,1.9,16.4,1.6,15.4,3.1,14.4,2.4,13.6,4.4,12.4,4.2,10.6,6.1,9.1,6.2,7.9,8.7,7.4,10.2,6.4,9.1,5.9,10.6],[1,5.3,12.1,6.1,11.9,7.1,12.9,8.9,10.1,10.3,8.2,12.8,4.7,15.4,4.4,15.9,2.4,16.6,1.7,17.8,3.9,18.8,4.4,18.6,6.4,17.3,9.4,15.6,10.7,14,11.7,12.9,13.1,12.6,13.9,11.3,13.9,10.4,13.1,9.9,14.2,7.9,13.9,5.9,13.2],[2,8.1,13.4,8.9,11,9.9,9.1,11.9,8.9,12.9,7,14.6,5.4,16.3,4.1,16.9,5.7,17.8,6.6,15.6,7.4,16.3,8.6,14.9,8.7,13.3,8.2,11.9,9.9,10.8,11.9,8.9,13.1],[3,9.9,9.2,10.5,9.2,10.8,10.7,10.3,11.2],[3,12.8,9.1,14.2,9.1,14.5,9.6,13.5,9.9],[0,2.8,14.5,3.4,13.8,3.9,14.5,3.4,14.9],[0,5,15.5,5.3,15.1,5.8,15.5,5.3,15.8],[1,14.5,12.3,14.8,11.8,15,12.3,14.8,12.9]];
const k42=[14,7,1,10,9,.75,11,9,.6,10,11,.6,12,8,.55,13,8,.6,15,7,.55,16,6,.55,16,5,.6,9,12,.55];
const c43=[[0,2.1,14.6,3.4,11.1,5.6,12.1,5.9,8.4,7.4,6.4,8.8,6.6,9.4,4.7,11.4,3.7,12.4,4.2,12.4,3.2,13.4,2.7,14.4,3.2,15.4,1.8,16.8,2.4,16.8,4.4,16.9,5.6,16.6,7.6,15.1,8.6,14.6,10.2,11.9,12.1,9.4,13.9,6.4,15.4,4.9,15.2,3.3,13.9,2.4,15],[1,3.3,12.1,5.8,12.2,6.6,10.1,7.8,7.4,9.6,5.4,11.4,4.2,14.3,3.7,14.9,5.4,15.9,6.4,14.3,8.2,14.9,9.6,14.1,10.1,12.3,11.7,9.6,13.7,7.3,13.4,6.3,15.2,4.9,14.7,3.4,13.4],[2,7.3,13.4,8.1,11.2,9.4,9.1,11.3,7.4,9.8,6.4,11.9,5.2,14.3,6.4,13.4,7.4,12.6,8.7,10.3,10.4,10.9,11.7,9.6,12.1,8.4,13.1],[3,11.4,7.6,12.6,7.2,12.9,8.9,11.9,8.7],[1,15,2.6,15.5,2,16,2.6,15.5,3.2],[2,14,4.6,14.4,4.3,14.8,4.6,14.4,5],[1,6,12.4,6.4,12.1,6.8,12.4,6.4,12.8],[4,7,10.3,7.3,10,7.6,10.3,7.3,10.6],[3,8,12.5,8.5,12,8.9,12.5,8.5,13]];
const k43=[12,8,1,8,12,.8,10,10,.7,11,8,.55,11,9,.55,12,6,.5,13,7,.5,9,11,.6,10,9,.5];
const contours={21:c21,31:c31,32:c32,41:c41,42:c42,43:c43,51:c51,52:c52,53:c53,54:c54,61:c61,62:c62,63:c63,64:c64,65:c65,71:c71,72:c72,73:c73,74:c74,75:c75,76:c76,81:c81,82:c82,83:c83,84:c84,85:c85,86:c86,87:c87};
const cells={21:k21,31:k31,32:k32,41:k41,42:k42,43:k43,51:k51,52:k52,53:k53,54:k54,61:k61,62:k62,63:k63,64:k64,65:k65,71:k71,72:k72,73:k73,74:k74,75:k75,76:k76,81:k81,82:k82,83:k83,84:k84,85:k85,86:k86,87:k87};

const LEVEL_FILL=['#f5f5f5','#dedede','#a0a0a0','#555555','#ffffff'];
const FONT='"DejaVu Sans"';
const PW=200,L0=100,T0=40,STEP=210;
const meas=document.createElement('canvas').getContext('2d');
function tw(t,sz){meas.font=sz+'px '+FONT;return meas.measureText(t).width;}
const valX=(i,u)=>mins[i]+u/20*(maxs[i]-mins[i]);
const valY=(i,v)=>maxs[i]-v/20*(maxs[i]-mins[i]);
function margin(i){const w=Math.max(...tickLabels[i].map(t=>tw(t,13.9)));return 10+(w+16)*0.7071/2;}
function nearest(i,v){let b=0,d=Infinity;tickVals[i].forEach((t,k)=>{const e=Math.abs(t-v);if(e<d){d=e;b=k;}});return tickLabels[i][b];}
const grids=[],xAxes=[],yAxes=[],series=[],graphics=[];
function addX(c,r,gi){xAxes.push({type:'value',gridIndex:gi,min:mins[c],max:maxs[c],splitLine:{show:false},axisLine:{show:false},scale:true,
 axisTick:{show:true,length:5,lineStyle:{color:'#000',width:1.1},customValues:tickVals[c]},
 axisLabel:{show:r===7,customValues:tickVals[c],rotate:45,align:'center',verticalAlign:'middle',margin:margin(c),color:'#000',fontFamily:FONT,fontSize:13.9,hideOverlap:false,showMinLabel:true,showMaxLabel:true,formatter:v=>nearest(c,v)},
 name:r===7?names[c]:'',nameLocation:'middle',nameGap:60,nameMoveOverlap:false,nameTextStyle:{color:'#000',fontFamily:FONT,fontSize:13.9}});}
for(let r=0;r<8;r++)for(let c=0;c<=r;c++){
 const gi=grids.length;const left=L0+c*STEP,top=T0+r*STEP;
 grids.push({left,top,width:PW,height:PW,show:true,borderColor:'#000',borderWidth:1.1,backgroundColor:'#fff',containLabel:false});
 addX(c,r,gi);
 if(r===c){
  const h=hists[r];const peak=Math.max(...h)*1.1;
  yAxes.push({type:'value',gridIndex:gi,min:0,max:peak,show:false});
  const pts=h.map((y,i)=>[valX(r,i),y]);pts.push([valX(r,20),h[19]]);
  series.push({type:'line',xAxisIndex:gi,yAxisIndex:gi,step:'end',data:pts,showSymbol:false,symbol:'none',silent:true,animation:false,lineStyle:{color:'#000',width:1.8},z:5});
 }else{
  yAxes.push({type:'value',gridIndex:gi,min:mins[r],max:maxs[r],splitLine:{show:false},axisLine:{show:false},scale:true,
   axisTick:{show:true,length:5,lineStyle:{color:'#000',width:1.1},customValues:tickVals[r]},
   axisLabel:{show:c===0,customValues:tickVals[r],rotate:45,align:'right',verticalAlign:'top',margin:21,color:'#000',fontFamily:FONT,fontSize:13.9,hideOverlap:false,showMinLabel:true,showMaxLabel:true,formatter:v=>nearest(r,v)},
   name:c===0?names[r]:'',nameLocation:'middle',nameGap:60,nameMoveOverlap:false,nameTextStyle:{color:'#000',fontFamily:FONT,fontSize:13.9}});
  const key=(r+1)*10+(c+1);
  const polys=contours[key].map(p=>{const pts=[];for(let i=1;i+1<p.length;i+=2)pts.push([valX(c,p[i]),valY(r,p[i+1])]);return {level:p[0],pts};}).filter(p=>p.pts.length>2);
  const ks=cells[key];const rects=[];for(let i=0;i<ks.length;i+=3)rects.push([valX(c,ks[i]),valY(r,ks[i+1]),valX(c,ks[i]+1),valY(r,ks[i+1]+1),ks[i+2]]);
  series.push({type:'custom',xAxisIndex:gi,yAxisIndex:gi,silent:true,animation:false,z:3,clip:true,data:[[mins[c],mins[r]]],encode:{x:0,y:1},renderItem:(p,api)=>{
    const ch=[];
    const co=a=>a.map(q=>api.coord(q));
    polys.forEach(o=>ch.push({type:'polygon',shape:{points:co(o.pts)},style:{fill:LEVEL_FILL[o.level],stroke:null}}));
    rects.forEach(k=>{const a=api.coord([k[0],k[1]]),b=api.coord([k[2],k[3]]);const g=Math.round(255*(1-k[4]));ch.push({type:'rect',shape:{x:a[0],y:a[1],width:b[0]-a[0],height:b[1]-a[1]},style:{fill:`rgb(${g},${g},${g})`}});});
    polys.forEach(o=>ch.push({type:'polygon',shape:{points:co(o.pts)},style:{fill:null,stroke:'#000',lineWidth:2.2,lineJoin:'miter'}}));
    return {type:'group',children:ch};
  }});
  const dots=samples[c].map((u,i)=>[valX(c,u),valX(r,samples[r][i])]);
  series.push({type:'scatter',xAxisIndex:gi,yAxisIndex:gi,data:dots,symbolSize:3,silent:true,animation:false,itemStyle:{color:'rgba(0,0,0,0.17)'},z:2});
 }
}
names.forEach((n,i)=>{
 const main=n+' = '+medians[i];const mw=tw(main,16.67);const sw=Math.max(tw(plus[i],11.67),tw(minus[i],11.67));
 const cx=L0+i*STEP+PW/2;const x0=cx-(mw+sw)/2;const top=T0+i*STEP;
 graphics.push({type:'text',x:x0,y:top-15,style:{text:main,font:'16.67px '+FONT,fill:'#000',verticalAlign:'middle'}});
 graphics.push({type:'text',x:x0+mw,y:top-19,style:{text:plus[i],font:'11.67px '+FONT,fill:'#000',verticalAlign:'middle'}});
 graphics.push({type:'text',x:x0+mw,y:top-9,style:{text:minus[i],font:'11.67px '+FONT,fill:'#000',verticalAlign:'middle'}});
});
graphics.push({type:'text',x:L0,y:T0+5*STEP-9,style:{text:'1e\u22128',font:'13.9px '+FONT,fill:'#000',verticalAlign:'middle'}});
graphics.push({type:'text',x:L0+5*STEP+PW,y:T0+7*STEP+PW+45,style:{text:'1e\u22128',font:'13.9px '+FONT,fill:'#000',align:'right',verticalAlign:'middle'}});
const chart=echarts.init(document.getElementById('c'),null,{renderer:'canvas',width:1809,height:1809});
chart.setOption({animation:false,backgroundColor:'#fff',grid:grids,xAxis:xAxes,yAxis:yAxes,series,graphic:graphics});
</script></body></html>
